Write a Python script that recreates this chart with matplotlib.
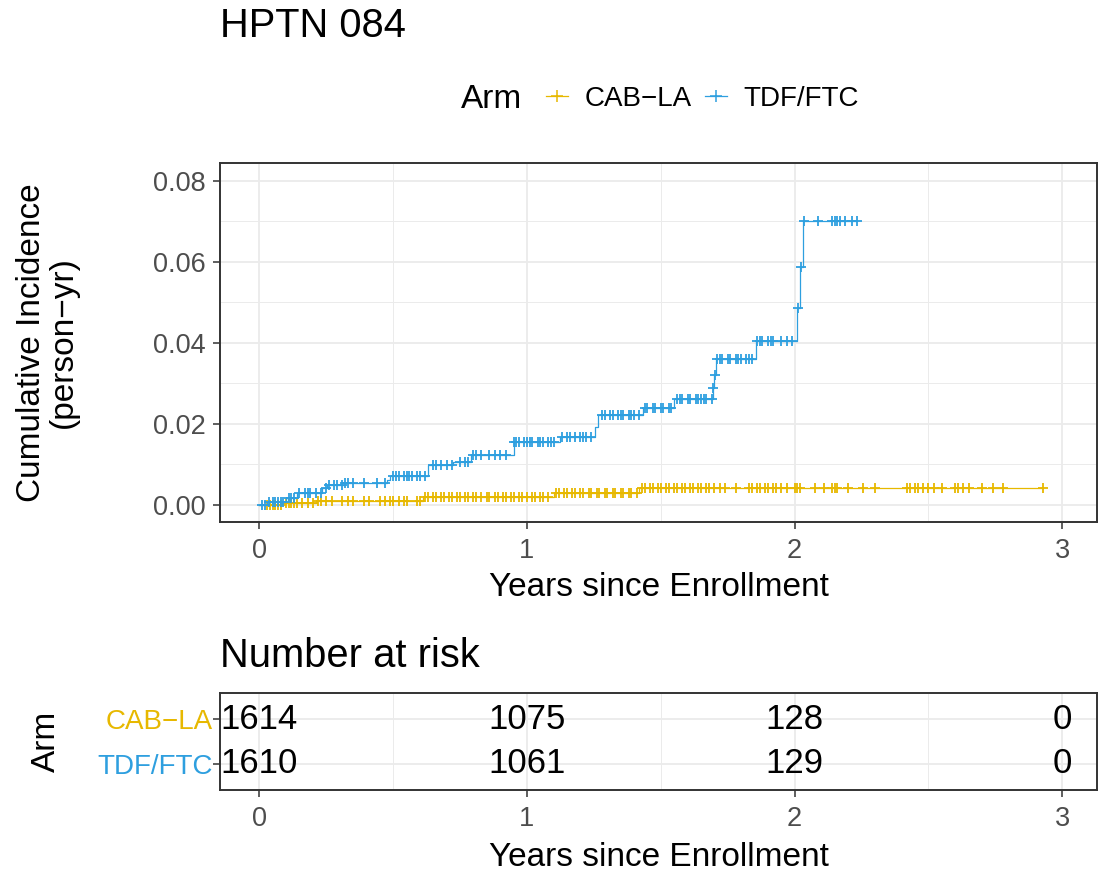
import numpy as np
import matplotlib
matplotlib.use("Agg")
import matplotlib.pyplot as plt
from matplotlib.lines import Line2D

plt.rcParams['font.family'] = ['Liberation Sans', 'DejaVu Sans']

arms = ["CAB\u2212LA", "TDF/FTC"]
colors = ["#E7B800", "#2E9FDF"]

# step functions (event times, cumulative incidence after each step)
cab_time = [0, 0.09, 0.21, 0.61, 1.10, 1.42]
cab_inc = [0, 0.0004, 0.0009, 0.0019, 0.0030, 0.0043]
tdf_time = [0, 0.029, 0.10, 0.14, 0.234, 0.253, 0.315, 0.477, 0.489, 0.63,
            0.725, 0.79, 0.95, 1.124, 1.255, 1.265, 1.432, 1.548, 1.695,
            1.700, 1.705, 1.856, 2.008, 2.019, 2.030]
tdf_inc = [0, 0.0008, 0.0016, 0.0029, 0.0042, 0.0050, 0.0054, 0.0062, 0.0072,
           0.0099, 0.0107, 0.0123, 0.0156, 0.0169, 0.0193, 0.0222, 0.0239,
           0.0261, 0.0288, 0.0321, 0.0360, 0.0405, 0.0486, 0.0588, 0.0702]

# censoring times
cab_censor = [0.03, 0.04, 0.05, 0.06, 0.07, 0.08, 0.1, 0.11, 0.12, 0.13, 0.14,
              0.16, 0.18, 0.2, 0.22, 0.23, 0.25, 0.27, 0.31, 0.33, 0.35, 0.39,
              0.41, 0.45, 0.47, 0.49, 0.5, 0.52, 0.54, 0.55, 0.59, 0.6, 0.62,
              0.63, 0.65, 0.66, 0.68, 0.69, 0.71, 0.72, 0.74, 0.75, 0.77, 0.78,
              0.8, 0.81, 0.83, 0.85, 0.86, 0.88, 0.89, 0.91, 0.92, 0.94, 0.95,
              0.97, 0.98, 1.0, 1.02, 1.03, 1.05, 1.06, 1.08, 1.11, 1.12, 1.14,
              1.15, 1.17, 1.18, 1.2, 1.21, 1.23, 1.24, 1.26, 1.27, 1.29, 1.3,
              1.32, 1.33, 1.35, 1.36, 1.38, 1.39, 1.41, 1.43, 1.44, 1.46, 1.47,
              1.49, 1.5, 1.52, 1.53, 1.55, 1.56, 1.58, 1.59, 1.61, 1.62, 1.64,
              1.65, 1.67, 1.68, 1.7, 1.72, 1.74, 1.78, 1.83, 1.84, 1.86, 1.87,
              1.89, 1.9, 1.92, 1.93, 1.95, 1.97, 2.0, 2.01, 2.02, 2.075, 2.11,
              2.14, 2.15, 2.16, 2.2, 2.255, 2.3, 2.42, 2.43, 2.45, 2.46, 2.48,
              2.5, 2.52, 2.55, 2.6, 2.61, 2.63, 2.65, 2.7, 2.74, 2.78, 2.93]
tdf_censor = [0.01, 0.02, 0.035, 0.05, 0.06, 0.07, 0.08, 0.09, 0.11, 0.12, 0.13,
              0.15, 0.17, 0.18, 0.19, 0.21, 0.23, 0.25, 0.26, 0.28, 0.29, 0.31,
              0.32, 0.33, 0.35, 0.39, 0.44, 0.47, 0.5, 0.51, 0.52, 0.54, 0.55,
              0.56, 0.57, 0.59, 0.6, 0.62, 0.65, 0.66, 0.68, 0.7, 0.72, 0.75,
              0.77, 0.78, 0.8, 0.81, 0.83, 0.86, 0.88, 0.9, 0.92, 0.95, 0.96,
              0.97, 0.99, 1.0, 1.01, 1.02, 1.04, 1.05, 1.06, 1.08, 1.09, 1.1,
              1.13, 1.15, 1.16, 1.18, 1.2, 1.21, 1.22, 1.24, 1.28, 1.29, 1.31,
              1.32, 1.34, 1.35, 1.36, 1.38, 1.39, 1.4, 1.42, 1.44, 1.45, 1.47,
              1.48, 1.5, 1.51, 1.53, 1.54, 1.56, 1.57, 1.58, 1.6, 1.61, 1.63,
              1.64, 1.65, 1.66, 1.67, 1.69, 1.697, 1.702, 1.71, 1.72, 1.73,
              1.75, 1.76, 1.78, 1.79, 1.8, 1.82, 1.83, 1.84, 1.86, 1.87, 1.88,
              1.9, 1.91, 1.92, 1.95, 1.97, 1.99, 2.012, 2.024, 2.036, 2.087,
              2.139, 2.15, 2.16, 2.17, 2.19, 2.216, 2.235]

# number at risk table
risk_times = [0, 1, 2, 3]
cab_risk = [1614, 1075, 128, 0]
tdf_risk = [1610, 1061, 129, 0]

grid_col = "#EBEBEB"
frame_col = "#333333"
tick_col = "#4D4D4D"

fig = plt.figure(figsize=(10.99, 8.74), dpi=100)
ax = fig.add_axes([220 / 1099, 1 - 522 / 874, 877 / 1099, 359 / 874])
axt = fig.add_axes([220 / 1099, 1 - 790 / 874, 877 / 1099, 97 / 874])


def style(a):
    for s in a.spines.values():
        s.set_color(frame_col)
        s.set_linewidth(1.4)
    a.set_axisbelow(True)
    a.grid(which='major', color=grid_col, lw=1.3)
    a.grid(which='minor', color=grid_col, lw=0.7)
    a.tick_params(which='major', length=5, width=1.1, color=frame_col,
                  labelsize=19.5, labelcolor=tick_col, pad=5)
    a.tick_params(axis='x', pad=6.5)
    a.tick_params(which='minor', length=0)
    a.set_xlim(-0.147, 3.13)
    a.set_xticks([0, 1, 2, 3])
    a.set_xticks([0.5, 1.5, 2.5], minor=True)


series = [(cab_time, cab_inc, cab_censor), (tdf_time, tdf_inc, tdf_censor)]
for (t, inc, cens), col in zip(series, colors):
    t = np.array(t)
    inc = np.array(inc)
    cens = np.array(cens)
    end = cens.max()
    ax.step(np.append(t, end), np.append(inc, inc[-1]), where='post',
            color=col, lw=0.9)
    idx = np.searchsorted(t, cens, side='right') - 1
    ax.plot(cens, inc[idx], ls='none', marker='+', ms=7.5, mew=1.3, color=col)

style(ax)
ax.set_ylim(-0.0042, 0.0844)
ax.set_yticks([0, 0.02, 0.04, 0.06, 0.08])
ax.set_yticklabels(["0.00", "0.02", "0.04", "0.06", "0.08"])
ax.set_yticks([0.01, 0.03, 0.05, 0.07], minor=True)
ax.set_xlabel("Years since Enrollment", fontsize=24, labelpad=6)
ax.set_ylabel("Cumulative Incidence\n(person\u2212yr)", fontsize=24,
              linespacing=1.02)
ax.yaxis.set_label_coords(-0.161, 0.5)

# risk table
style(axt)
axt.tick_params(axis='y', pad=0, labelsize=20)
axt.set_ylim(0.4, 2.6)
axt.set_yticks([2, 1])
axt.set_yticklabels(arms)
for lab, col in zip(axt.get_yticklabels(), colors):
    lab.set_color(col)
for row, vals in zip([2, 1], [cab_risk, tdf_risk]):
    for x, v in zip(risk_times, vals):
        axt.text(x, row, str(v), ha='center', va='center', fontsize=25)
axt.set_xlabel("Years since Enrollment", fontsize=24, labelpad=7)
axt.set_ylabel("Arm", fontsize=24)
axt.yaxis.set_label_coords(-0.18, 0.5)

fig.text(220 / 1099, 1 - 37 / 874, "HPTN 084", fontsize=28.7, va='baseline')
fig.text(220 / 1099, 1 - 667 / 874, "Number at risk", fontsize=28.7,
         va='baseline')

# legend
fig.text(461 / 1099, 1 - 108 / 874, "Arm", fontsize=24, va='baseline')
handles = [Line2D([], [], color=c, marker='+', ms=8, mew=1.1, lw=0.9)
           for c in colors]
fig.legend(handles, arms, loc='center left', bbox_to_anchor=(546 / 1099, 1 - 99 / 874),
           ncol=2, frameon=False, fontsize=20, handlelength=0.8,
           handletextpad=0.6, columnspacing=0.45, borderpad=0, borderaxespad=0)

fig.savefig("out.png", dpi=100)
